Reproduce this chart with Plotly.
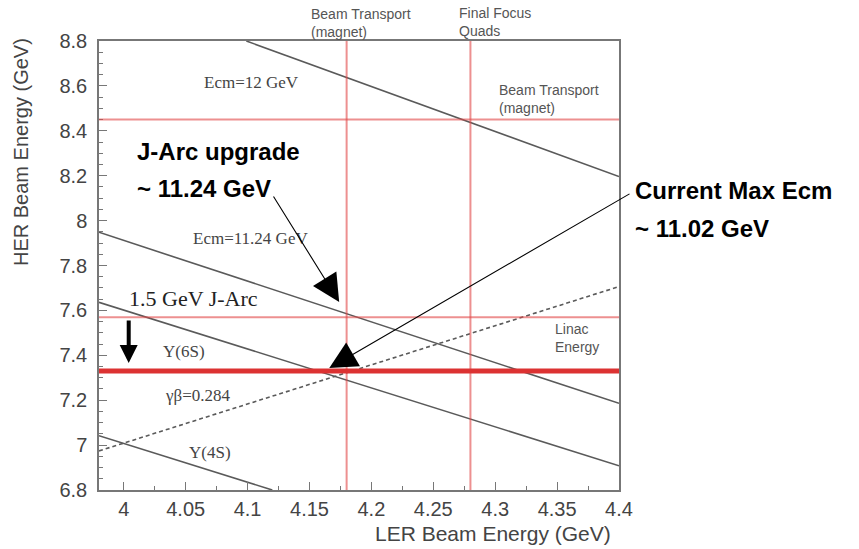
import plotly.graph_objects as go

# ---- data ----
x_range = [3.98, 4.4]
y_range = [6.8, 8.8]

x_tick_vals = [4.0, 4.05, 4.1, 4.15, 4.2, 4.25, 4.3, 4.35, 4.4]
x_tick_text = ["4", "4.05", "4.1", "4.15", "4.2", "4.25", "4.3", "4.35", "4.4"]
y_tick_vals = [6.8, 7.0, 7.2, 7.4, 7.6, 7.8, 8.0, 8.2, 8.4, 8.6, 8.8]
y_tick_text = ["6.8", "7", "7.2", "7.4", "7.6", "7.8", "8", "8.2", "8.4", "8.6", "8.8"]

# Ecm contours (LER, HER) endpoints
ecm12_x = [4.099, 4.4]
ecm12_y = [8.8, 8.196]
ecm1124_x = [3.98, 4.4]
ecm1124_y = [7.948, 7.186]
y6s_x = [3.98, 4.4]
y6s_y = [7.636, 6.908]
y4s_x = [3.98, 4.12]
y4s_y = [7.042, 6.8]
gb_x = [3.98, 4.4]
gb_y = [6.974, 7.706]

# limits
ler_limits = [4.18, 4.28]          # Beam Transport (magnet), Final Focus Quads
her_limits = [8.45, 7.57]          # Beam Transport (magnet), Linac Energy
current_max_her = [7.33]

W, H = 859, 549
ML, MR, MT, MB = 99, 240, 41, 59
pw, ph = W - ML - MR, H - MT - MB

def to_paper(x, y):
    return ((x - x_range[0]) / (x_range[1] - x_range[0]),
            (y - y_range[0]) / (y_range[1] - y_range[0]))

fig = go.Figure()

line_style = dict(color="#5a5a5a", width=1.6)
fig.add_trace(go.Scatter(x=ecm12_x, y=ecm12_y, mode="lines", line=line_style, hoverinfo="skip"))
fig.add_trace(go.Scatter(x=ecm1124_x, y=ecm1124_y, mode="lines", line=line_style, hoverinfo="skip"))
fig.add_trace(go.Scatter(x=y6s_x, y=y6s_y, mode="lines", line=line_style, hoverinfo="skip"))
fig.add_trace(go.Scatter(x=y4s_x, y=y4s_y, mode="lines", line=line_style, hoverinfo="skip"))
fig.add_trace(go.Scatter(x=gb_x, y=gb_y, mode="lines",
                         line=dict(color="#5a5a5a", width=1.6, dash="4px,3px"), hoverinfo="skip"))

thin_red = dict(color="rgba(225,70,70,0.6)", width=2)
for v in ler_limits:
    fig.add_vline(x=v, line=thin_red, layer="above")
for h in her_limits:
    fig.add_hline(y=h, line=thin_red, layer="above")
for h in current_max_her:
    fig.add_hline(y=h, line=dict(color="#dc3232", width=5), layer="above")

gray_font = dict(family="Liberation Sans, Arial", size=14, color="#555555")
serif_font = dict(family="Liberation Serif, Times New Roman", size=17, color="#444444")
serif_big = dict(family="Liberation Serif, Times New Roman", size=22, color="#222222")
bold_font = dict(family="Liberation Sans, Arial", size=24, color="#000000")

ann = []
def txt(x, y, t, font, xanchor="center", align="center"):
    px, py = to_paper(x, y)
    ann.append(dict(x=px, y=py, xref="paper", yref="paper", text=t, showarrow=False,
                    font=font, xanchor=xanchor, yanchor="middle", align=align))

txt(4.150, 8.882, "Beam Transport<br>(magnet)", gray_font, "left", "left")
txt(4.269, 8.885, "Final Focus<br>Quads", gray_font, "left", "left")
txt(4.3016, 8.542, "Beam Transport<br>(magnet)", gray_font, "left", "left")
txt(4.3468, 7.475, "Linac<br>Energy", gray_font, "left", "left")
txt(4.103, 8.617, "Ecm=12 GeV", serif_font)
txt(4.1024, 7.922, "Ecm=11.24 GeV", serif_font)
txt(4.049, 7.419, "Y(6S)", serif_font)
txt(4.0593, 7.219, "γβ=0.284", serif_font)
txt(4.0694, 6.969, "Y(4S)", serif_font)
txt(4.0565, 7.655, "1.5 GeV J-Arc", serif_big)
txt(4.0089, 8.306, "<b>J-Arc upgrade</b>", bold_font, "left", "left")
txt(4.0089, 8.145, "<b>~ 11.24 GeV</b>", bold_font, "left", "left")
txt(4.4115, 8.132, "<b>Current Max Ecm</b>", bold_font, "left", "left")
txt(4.4115, 7.967, "<b>~ 11.02 GeV</b>", bold_font, "left", "left")

# arrows
ann.append(dict(x=4.174, y=7.637, ax=4.1202, ay=8.114, xref="x", yref="y", axref="x", ayref="y",
                text="", showarrow=True, arrowhead=2, arrowsize=5, arrowwidth=1.1, arrowcolor="#000"))
ann.append(dict(x=4.166, y=7.343, ax=4.4097, ay=8.123, xref="x", yref="y", axref="x", ayref="y",
                text="", showarrow=True, arrowhead=2, arrowsize=5, arrowwidth=1.1, arrowcolor="#000"))
ann.append(dict(x=4.004, y=7.366, ax=4.004, ay=7.562, xref="x", yref="y", axref="x", ayref="y",
                text="", showarrow=True, arrowhead=2, arrowsize=0.9, arrowwidth=4, arrowcolor="#000"))

# axis titles (placed by pixel)
def pix(x, y):
    return (x - ML) / pw, 1 - (y - MT) / ph

tx, ty = pix(21, 152)
ann.append(dict(x=tx, y=ty, xref="paper", yref="paper", text="HER Beam Energy (GeV)",
                showarrow=False, textangle=-90, xanchor="center", yanchor="middle",
                font=dict(family="Liberation Sans, Arial", size=20, color="#444444")))
tx, ty = pix(493, 533)
ann.append(dict(x=tx, y=ty, xref="paper", yref="paper", text="LER Beam Energy (GeV)",
                showarrow=False, xanchor="center", yanchor="middle",
                font=dict(family="Liberation Sans, Arial", size=21, color="#444444")))

fig.update_layout(
    width=W, height=H,
    margin=dict(l=ML, r=MR, t=MT, b=MB),
    paper_bgcolor="white", plot_bgcolor="white",
    showlegend=False,
    annotations=ann,
    font=dict(family="Liberation Sans, Arial", color="#444444"),
)
fig.update_xaxes(range=x_range, showgrid=False, zeroline=False,
                 showline=True, mirror=True, linecolor="#777777", linewidth=1.5,
                 tickvals=x_tick_vals, ticktext=x_tick_text,
                 ticks="inside", ticklen=8, tickcolor="#777777", tickwidth=1.3,
                 tickfont=dict(size=20, color="#444444"),
                 minor=dict(dtick=0.025, tick0=4.0, ticks="inside", ticklen=4, tickcolor="#777777"))
fig.update_yaxes(range=y_range, showgrid=False, zeroline=False,
                 showline=True, mirror=True, linecolor="#777777", linewidth=1.5,
                 tickvals=y_tick_vals, ticktext=y_tick_text,
                 ticks="inside", ticklen=8, tickcolor="#777777", tickwidth=1.3,
                 ticklabelstandoff=6,
                 tickfont=dict(size=20, color="#444444"),
                 minor=dict(dtick=0.05, tick0=6.8, ticks="inside", ticklen=4, tickcolor="#777777"))

fig.write_html("out.html")
